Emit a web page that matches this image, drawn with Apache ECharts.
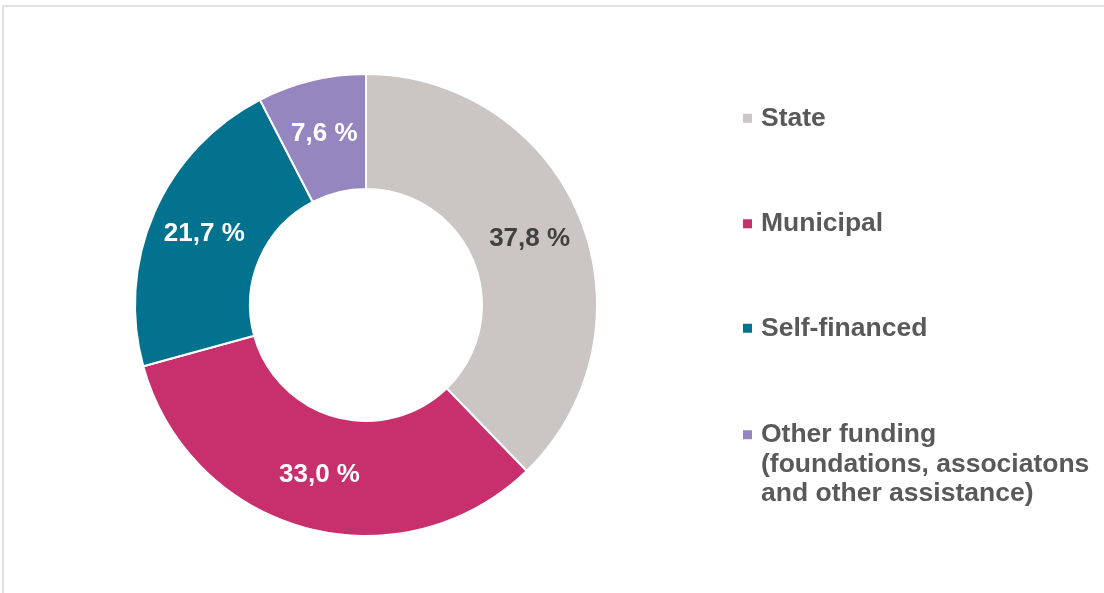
<!DOCTYPE html>
<html>
<head>
<meta charset="utf-8">
<script src="https://cdn.jsdelivr.net/npm/echarts@6/dist/echarts.min.js"></script>
<style>
  html, body { margin: 0; padding: 0; background: #fff; }
  #chart { width: 1104px; height: 593px; }
</style>
</head>
<body>
<div id="chart"></div>
<script>
// funding sources
const categories = ['State', 'Municipal', 'Self-financed', 'Other funding\n(foundations, associatons\nand other assistance)'];
const shares = [37.8, 33.0, 21.7, 7.6];
const colors = ['#CBC6C4', '#C82F6D', '#03728F', '#9586C0'];
const labelColors = ['#404040', '#ffffff', '#ffffff', '#ffffff'];
const legendTops = [103.5, 209, 313.5, 361];

const FONT = '"Liberation Sans", Arial, sans-serif';
const LEGEND_LH = 29.5;

const chart = echarts.init(document.getElementById('chart'));

const data = categories.map((name, i) => ({
  name: name,
  value: shares[i],
  itemStyle: { color: colors[i] },
  label: { color: labelColors[i] }
}));

// wrap every line in a rich token; multi-line names get blank lines on top
// so the marker stays level with the first line
const legendText = name => {
  const lines = name.split('\n');
  const pad = [];
  for (let k = 1; k < lines.length; k++) pad.push('{t| }');
  return pad.concat(lines.map(l => '{t|' + l + '}')).join('\n');
};

// one legend per item so every entry can sit at its own height
const legends = categories.map((name, i) => ({
  data: [name],
  left: 743,
  top: legendTops[i],
  padding: 0,
  icon: 'rect',
  itemWidth: 9,
  itemHeight: 9,
  itemStyle: { borderWidth: 0 },
  selectedMode: false,
  formatter: legendText,
  textStyle: {
    fontFamily: FONT,
    fontSize: 26.5,
    fontWeight: 'bold',
    color: '#595959',
    lineHeight: LEGEND_LH,
    rich: {
      t: {
        fontFamily: FONT,
        fontSize: 26.5,
        fontWeight: 'bold',
        color: '#595959',
        lineHeight: LEGEND_LH,
        padding: [0, 0, 0, 4]
      }
    }
  }
}));

const option = {
  animation: false,
  backgroundColor: '#ffffff',
  graphic: [{
    type: 'rect',
    shape: { x: 3, y: 6, width: 1300, height: 800 },
    style: { fill: 'none', stroke: '#d9d9d9', lineWidth: 1.5 },
    silent: true
  }],
  legend: legends,
  series: [{
    type: 'pie',
    center: [366, 305],
    radius: [116, 231],
    startAngle: 90,
    clockwise: true,
    avoidLabelOverlap: false,
    itemStyle: { borderColor: '#ffffff', borderWidth: 2 },
    label: {
      show: true,
      position: 'inside',
      fontFamily: FONT,
      fontSize: 26,
      fontWeight: 'bold',
      formatter: p => p.value.toFixed(1).replace('.', ',') + ' %'
    },
    labelLine: { show: false },
    emphasis: { disabled: true },
    data: data
  }]
};

chart.setOption(option);
</script>
</body>
</html>
